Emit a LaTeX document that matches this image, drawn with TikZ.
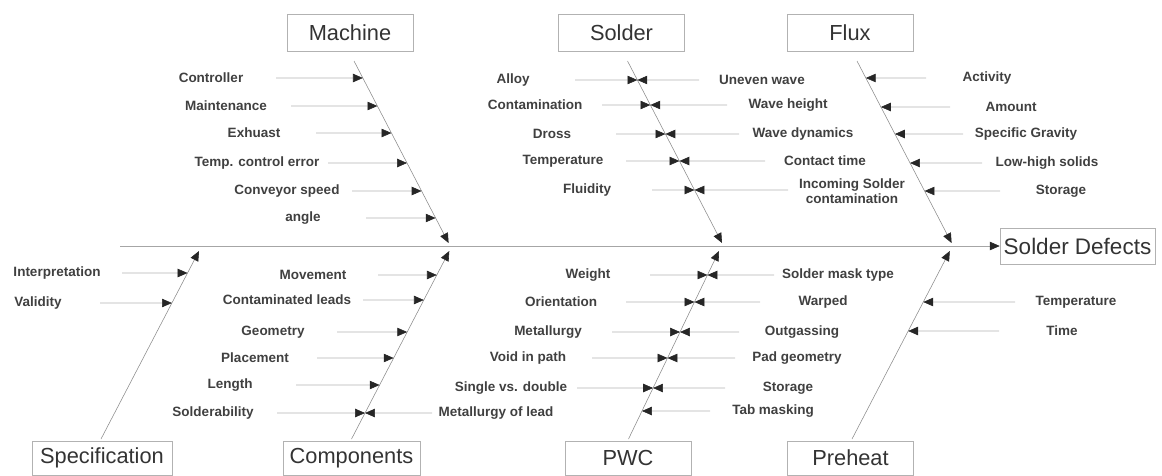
\documentclass[tikz,border=0pt]{standalone}
\usepackage{fontspec}
\setmainfont{Liberation Sans}
\usetikzlibrary{arrows.meta,calc}
\tikzset{
  category/.style={
    draw=black!30,
    minimum width=3.15cm,
    minimum height=0.93cm,
    inner sep=0pt,
    text=black!80,
    font=\fontsize{15.5}{18}\selectfont
  },
  cause/.style={
    inner sep=0pt,
    align=center,
    text=black!75,
    font=\bfseries\fontsize{9.6}{11}\selectfont
  },
  bone/.style={
    draw=black!45,
    -{Triangle[length=7pt,width=6pt,color=black!85]}
  },
  twig/.style={
    draw=black!30,
    -{Triangle[length=7pt,width=6pt,color=black!85]}
  },
  every picture/.style={x=0.025cm, y=-0.025cm}
}
\begin{document}
\begin{tikzpicture}
  \useasboundingbox (0,0) rectangle (1162,475);
  % head and spine
  \node[category, minimum width=3.875cm, minimum height=0.9cm, font=\fontsize{16}{19}\selectfont] (eff) at (1077.5,246) {Solder Defects};
  \coordinate (tail) at (120,246);
  \draw[bone, draw=black!35] (tail) -- (eff.west);
  % categories
  \node[category] (mach) at (350,32.5) {Machine};
  \node[category] (sold) at (621.5,32.5) {Solder};
  \node[category] (flux) at (850,32.5) {Flux};
  \node[category, minimum width=3.5cm, minimum height=0.85cm] (spec) at (102,458) {Specification};
  \node[category, minimum width=3.425cm, minimum height=0.85cm] (comp) at (351.5,458) {Components};
  \node[category, minimum height=0.85cm] (pwc) at (628,458) {PWC};
  \node[category, minimum height=0.85cm] (preh) at (850.5,458) {Preheat};
  % bones
  \coordinate (m0) at (354,61);   \coordinate (m1) at (448.6,243);
  \coordinate (s0) at (627.5,61); \coordinate (s1) at (722,243);
  \coordinate (f0) at (857,61);   \coordinate (f1) at (951.6,243);
  \coordinate (p0) at (101,439);  \coordinate (p1) at (199,251);
  \coordinate (c0) at (351.5,439); \coordinate (c1) at (449.3,251);
  \coordinate (w0) at (628.5,439); \coordinate (w1) at (719,251);
  \coordinate (h0) at (852,439);  \coordinate (h1) at (949.8,251);
  \foreach \b in {m,s,f,p,c,w,h}{
      \draw[bone] (\b0) -- (\b1);
    }
  % machine
  \foreach \t/\x/\s/\y in {Controller/211/276/78, Maintenance/226/291/106, Exhuast/254/316/133,
      Temp. control error/257/328/163, Conveyor speed/287/352/191, angle/303/366/218}{
      \node[cause] (ma\y) at (\x,\y) {\t};
      \draw[twig] (\s,\y) -- ($(m0)!{(\y-61)/182}!(m1)$);
    }
  % solder
  \foreach \t/\x/\s/\y in {Alloy/513/575/80, Contamination/535/602/105, Dross/552/616/134,
      Temperature/563/626/161, Fluidity/587/652/190}{
      \node[cause] (sl\y) at (\x,\y) {\t};
      \draw[twig] (\s,\y) -- ($(s0)!{(\y-61)/182}!(s1)$);
    }
  \foreach \t/\x/\s/\y in {Uneven wave/762/699/80, Wave height/788/727/105,
      Wave dynamics/803/739/134, Contact time/825/765/161}{
      \node[cause] (sr\y) at (\x,\y) {\t};
      \draw[twig] (\s,\y) -- ($(s0)!{(\y-61)/182}!(s1)$);
    }
  \node[cause] (sr190) at (852,191) {Incoming Solder\\contamination};
  \draw[twig] (788,190) -- ($(s0)!{(190-61)/182}!(s1)$);
  % flux
  \foreach \t/\x/\s/\y in {Activity/987/926/78, Amount/1011/950/107, Specific Gravity/1026/963/134,
      Low-high solids/1047/982/163, Storage/1061/1000/191}{
      \node[cause] (fr\y) at (\x,\y) {\t};
      \draw[twig] (\s,\y) -- ($(f0)!{(\y-61)/182}!(f1)$);
    }
  % specification
  \foreach \t/\x/\s/\y in {Interpretation/57/122/273, Validity/38/100/303}{
      \node[cause] (pl\y) at (\x,\y) {\t};
      \draw[twig] (\s,\y) -- ($(p0)!{(439-\y)/188}!(p1)$);
    }
  % components
  \foreach \t/\x/\s/\y in {Movement/313/378/275, Contaminated leads/287/363/300, Geometry/273/337/332,
      Placement/255/317/358, Length/230/296/385, Solderability/213/277/413}{
      \node[cause] (cl\y) at (\x,\y) {\t};
      \draw[twig] (\s,\y) -- ($(c0)!{(439-\y)/188}!(c1)$);
    }
  \node[cause] (cr413) at (496,413) {Metallurgy of lead};
  \draw[twig] (432,413) -- ($(c0)!{(439-413)/188}!(c1)$);
  % pwc
  \foreach \t/\x/\s/\y in {Weight/588/650/275, Orientation/561/626/302, Metallurgy/548/612/332,
      Void in path/528/592/358, Single vs. double/511/577/388}{
      \node[cause] (wl\y) at (\x,\y) {\t};
      \draw[twig] (\s,\y) -- ($(w0)!{(439-\y)/188}!(w1)$);
    }
  \foreach \t/\x/\s/\y in {Solder mask type/838/774/275, Warped/823/760/302, Outgassing/802/739/332,
      Pad geometry/797/735/358, Storage/788/725/388, Tab masking/773/710/411}{
      \node[cause] (wr\y) at (\x,\y) {\t};
      \draw[twig] (\s,\y) -- ($(w0)!{(439-\y)/188}!(w1)$);
    }
  % preheat
  \foreach \t/\x/\s/\y in {Temperature/1076/1015/302, Time/1062/999/331}{
      \node[cause] (hr\y) at (\x,\y) {\t};
      \draw[twig] (\s,\y) -- ($(h0)!{(439-\y)/188}!(h1)$);
    }
\end{tikzpicture}
\end{document}
